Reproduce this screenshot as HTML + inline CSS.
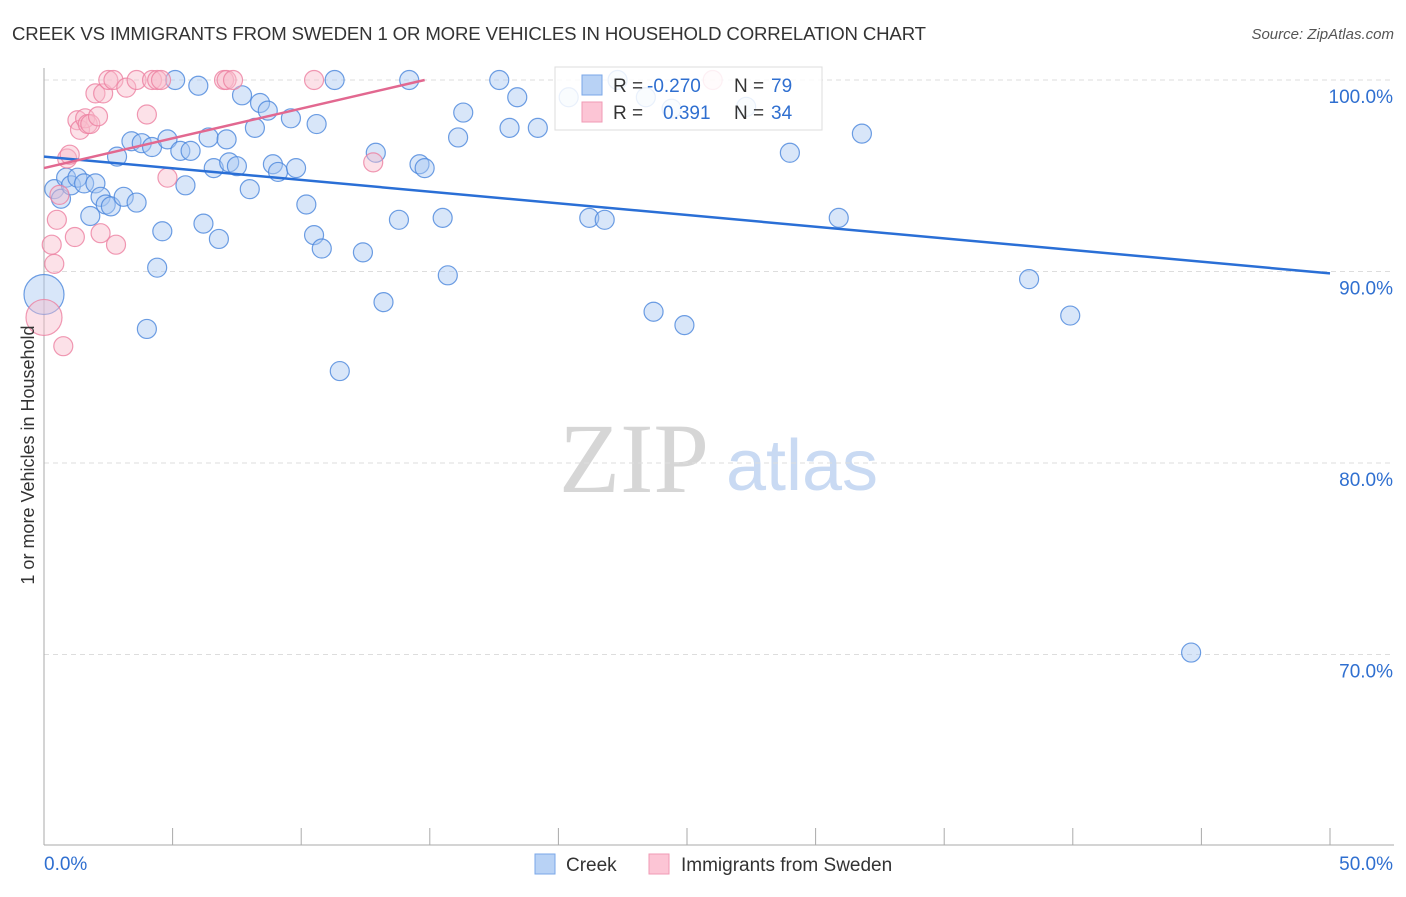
<!DOCTYPE html>
<html><head><meta charset="utf-8"><style>
body{margin:0;background:#fff;font-family:"Liberation Sans",sans-serif;}
</style></head><body>
<svg width="1406" height="892" xmlns="http://www.w3.org/2000/svg" style="font-family:'Liberation Sans',sans-serif">
<text x="12" y="40" font-size="18.6" fill="#333" textLength="914">CREEK VS IMMIGRANTS FROM SWEDEN 1 OR MORE VEHICLES IN HOUSEHOLD CORRELATION CHART</text>
<text x="1394" y="39" font-size="15" fill="#555" font-style="italic" text-anchor="end">Source: ZipAtlas.com</text>
<g>
<text x="634" y="492" font-size="100" fill="#d6d6d6" style="font-family:'Liberation Serif',serif" text-anchor="middle">ZIP</text>
<text x="802" y="490" font-size="72" fill="#c9daf3" text-anchor="middle">atlas</text>
</g>
<g id="grid"></g>
<g id="axes"></g>
<g id="pts"></g>
<g id="lines"></g>
<text transform="translate(34,455) rotate(-90)" font-size="18" fill="#333" text-anchor="middle">1 or more Vehicles in Household</text>
<g>
<rect x="555" y="67" width="267" height="63" fill="#fff" fill-opacity="0.85" stroke="#ddd"/>
<rect x="582" y="75" width="20" height="20" fill="#b8d2f5" stroke="#7aa7e8"/>
<rect x="582" y="102" width="20" height="20" fill="#fcc5d5" stroke="#f09ab5"/>
<text x="613" y="92" font-size="19" fill="#333">R = </text>
<text x="647" y="92" font-size="19" fill="#2f6fd0">-0.270</text>
<text x="734" y="92" font-size="19" fill="#333">N = </text>
<text x="771" y="92" font-size="19" fill="#2f6fd0">79</text>
<text x="613" y="119" font-size="19" fill="#333">R = </text>
<text x="663" y="119" font-size="19" fill="#2f6fd0">0.391</text>
<text x="734" y="119" font-size="19" fill="#333">N = </text>
<text x="771" y="119" font-size="19" fill="#2f6fd0">34</text>
</g>
<g>
<rect x="535" y="854" width="20" height="20" fill="#b8d2f5" stroke="#7aa7e8"/>
<text x="566" y="871" font-size="19" fill="#333">Creek</text>
<rect x="649" y="854" width="20" height="20" fill="#fcc5d5" stroke="#f09ab5"/>
<text x="681" y="871" font-size="19" fill="#333">Immigrants from Sweden</text>
</g>
</svg>
<script>
const blueX=[0,0.4,0.66,0.86,1.05,1.3,1.56,1.8,2.0,2.2,2.4,2.6,2.84,3.1,3.4,3.6,3.8,4.0,4.2,4.4,4.6,4.8,5.1,5.3,5.5,5.7,6.0,6.2,6.4,6.6,6.8,7.1,7.2,7.5,7.7,8.0,8.2,8.4,8.7,8.9,9.1,9.6,9.8,10.2,10.5,10.6,10.8,11.3,11.5,12.4,12.9,13.2,13.8,14.2,14.6,14.8,15.5,15.7,16.1,16.3,17.7,18.1,18.4,19.2,20.4,21.2,21.8,22.3,23.4,23.7,24.4,24.9,27.3,29.0,30.9,31.8,38.3,39.9,44.6];
const blueY=[88.8,94.3,93.8,94.9,94.5,94.9,94.6,92.9,94.6,93.9,93.5,93.4,96.0,93.9,96.8,93.6,96.7,87.0,96.5,90.2,92.1,96.9,100,96.3,94.5,96.3,99.7,92.5,97.0,95.4,91.7,96.9,95.7,95.5,99.2,94.3,97.5,98.8,98.4,95.6,95.2,98.0,95.4,93.5,91.9,97.7,91.2,100,84.8,91.0,96.2,88.4,92.7,100,95.6,95.4,92.8,89.8,97.0,98.3,100,97.5,99.1,97.5,99.1,92.8,92.7,100,99.1,87.9,98.5,87.2,98.6,96.2,92.8,97.2,89.6,87.7,70.1];
const pinkX=[0,0.3,0.4,0.5,0.6,0.75,0.9,1.0,1.2,1.3,1.4,1.6,1.7,1.8,2.0,2.1,2.2,2.3,2.5,2.7,2.8,3.2,3.6,4.0,4.2,4.4,4.55,4.8,7.0,7.1,7.35,10.5,12.8,26.0];
const pinkY=[87.6,91.4,90.4,92.7,94.0,86.1,95.9,96.1,91.8,97.9,97.4,98.0,97.7,97.7,99.3,98.1,92.0,99.3,100,100,91.4,99.6,100,98.2,100,100,100,94.9,100,100,100,100,95.7,100];
const blueTrend=[96.0,89.9];
const pinkTrend=[95.4,100];const pinkTrendEnd=14.8;
const yTicks=[100,90,80,70];
const yTickLabels=["100.0%","90.0%","80.0%","70.0%"];
const xTicks=[0,5,10,15,20,25,30,35,40,45,50];
const xAxisLabels=["0.0%","50.0%"];
const NS="http://www.w3.org/2000/svg";
const X=v=>44+v/50*1286, Y=v=>80+(100-v)*19.15;
function mk(t,a,p){const e=document.createElementNS(NS,t);for(const k in a)e.setAttribute(k,a[k]);p.appendChild(e);return e;}
const grid=document.getElementById('grid'),axes=document.getElementById('axes'),pts=document.getElementById('pts'),lines=document.getElementById('lines');
yTicks.forEach((v,i)=>{
 const l=mk('line',{x1:44,x2:1394,y1:Y(v),y2:Y(v),stroke:'#ddd','stroke-dasharray':'5,4'},grid);
 
 
 const t=mk('text',{x:1393,y:Y(v)+23,'font-size':19,fill:'#2f6fd0','text-anchor':'end'},axes);
 t.textContent=yTickLabels[i];
 
 
});
const ya=mk('line',{x1:44,x2:44,y1:68,y2:845,stroke:'#aaa'},axes);


const xa=mk('line',{x1:44,x2:1394,y1:845,y2:845,stroke:'#aaa'},axes);


xTicks.forEach(v=>{const t=mk('line',{x1:X(v),x2:X(v),y1:828,y2:845,stroke:'#aaa'},axes);
 
 });
[[0,'start'],[50,'end']].forEach((o,i)=>{const t=mk('text',{x:i?1393:44,y:870,'font-size':19,fill:'#2f6fd0','text-anchor':o[1]},axes);t.textContent=xAxisLabels[i];
 
 });
function dots(xs,ys,fill,stroke,name,bigR){xs.forEach((x,i)=>{const r=i==0?bigR:9.5;
 const c=mk('circle',{cx:X(x),cy:Y(ys[i]),r:r,fill:fill,'fill-opacity':0.45,stroke:stroke,'stroke-opacity':0.8,'stroke-width':1.2},pts);
 
 });}
dots(blueX,blueY,'#a9c8f2','#4a86dc','creek-point',20);
dots(pinkX,pinkY,'#f9bccd','#ec7fa0','sweden-point',18);
const bl=mk('line',{x1:X(0),y1:Y(blueTrend[0]),x2:X(50),y2:Y(blueTrend[1]),stroke:'#2a6fd6','stroke-width':2.5},lines);


const pl=mk('line',{x1:X(0),y1:Y(pinkTrend[0]),x2:X(pinkTrendEnd),y2:Y(pinkTrend[1]),stroke:'#e26890','stroke-width':2.5},lines);


</script>
</body></html>
